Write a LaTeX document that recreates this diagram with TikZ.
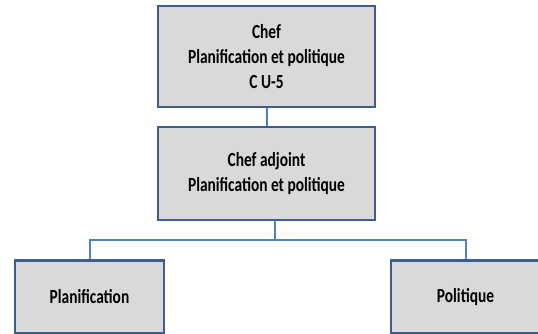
\documentclass[tikz,border=0pt]{standalone}
\usepackage{fontspec}
\setmainfont{Carlito}[FakeStretch=0.77]
\usetikzlibrary{calc}
\definecolor{boxedge}{RGB}{59,94,142}
\definecolor{boxfill}{RGB}{217,217,217}
\definecolor{linkblue}{RGB}{79,129,189}
\begin{document}
\begin{tikzpicture}[x=1pt,y=-1pt,
  orgbox/.style={draw=boxedge, fill=boxfill, line width=2.8pt, inner sep=0pt,
    align=center, font=\fontsize{20}{25}\selectfont\bfseries},
  link/.style={draw=linkblue, line width=2pt}]
\useasboundingbox (0,0) rectangle (538,333);
% boxes of the organisation chart
\node[orgbox, minimum width=217pt, minimum height=101pt] (chef) at (266.5,56.5)
  {Chef\\Planification et politique\\C U-5};
\node[orgbox, minimum width=217pt, minimum height=93pt] (adjoint) at (266.5,173.5)
  {Chef adjoint\\Planification et politique};
\node[orgbox, minimum width=149pt, minimum height=73pt] (plan) at (89.5,297)
  {Planification};
\node[orgbox, minimum width=149pt, minimum height=73pt] (pol) at (465.5,297)
  {Politique};
% connectors
\draw[link] (chef.south) -- (adjoint.north);
\coordinate (drop) at (275,220);
\coordinate (bus) at (275,240);
\draw[link] (drop) -- (bus);
\draw[link] (plan.north) |- (bus) -| (pol.north);
\end{tikzpicture}
\end{document}
